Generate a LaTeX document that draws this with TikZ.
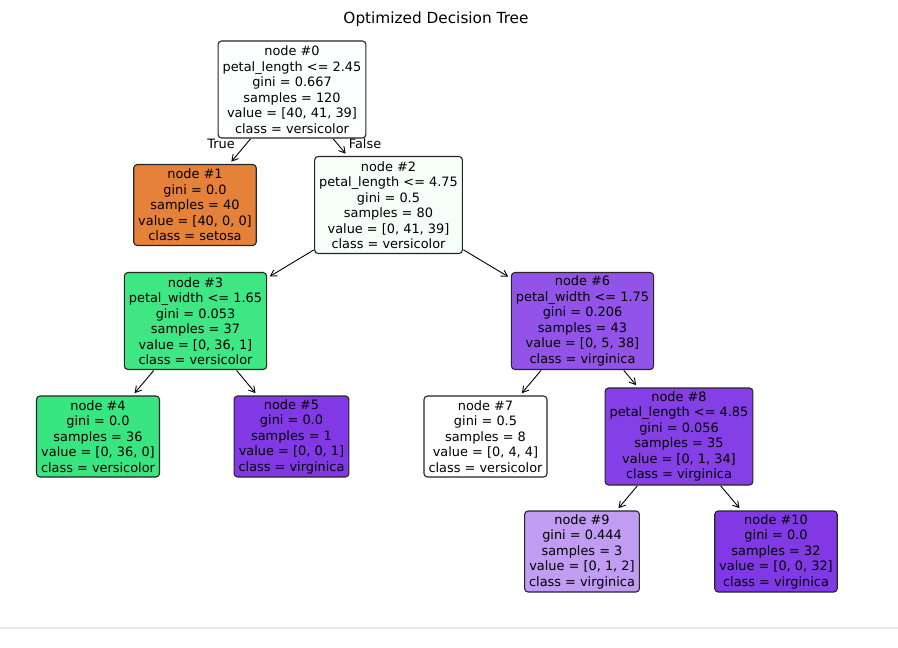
\documentclass[tikz,border=0pt]{standalone}
\usepackage{fontspec}
\setmainfont{DejaVu Sans}
\usetikzlibrary{arrows.meta}
\definecolor{c0}{RGB}{252,255,253}
\definecolor{c1}{RGB}{229,129,57}
\definecolor{c2}{RGB}{245,254,249}
\definecolor{c3}{RGB}{62,230,132}
\definecolor{c4}{RGB}{57,229,129}
\definecolor{c5}{RGB}{129,57,229}
\definecolor{c6}{RGB}{146,83,232}
\definecolor{c7}{RGB}{255,255,255}
\definecolor{c8}{RGB}{133,63,230}
\definecolor{c9}{RGB}{192,156,242}
\definecolor{c10}{RGB}{129,57,229}
\definecolor{rulegray}{RGB}{232,232,234}
\begin{document}
\begin{tikzpicture}[x=1pt,y=-1pt,
  treenode/.style={draw=black!85, line width=1.1pt, rounded corners=3.5pt, align=center,
    font=\fontsize{12.9}{15.5}\selectfont, inner xsep=4.5pt, inner ysep=0pt, text=black},
  sixline/.style={treenode, minimum height=97pt},
  fiveline/.style={treenode, minimum height=81pt},
  edge/.style={-{Straight Barb[length=6pt,width=7pt]}, line width=0.9pt, shorten >=3pt, shorten <=0.5pt},
  elabel/.style={font=\fontsize{12.9}{15.5}\selectfont, inner sep=0pt}]
\useasboundingbox (0,0) rectangle (898,648);
\fill[white] (0,0) rectangle (898,648);
\draw[rulegray, line width=1.5pt] (0,628) -- (898,628);
\node[font=\fontsize{15.3}{18}\selectfont, inner sep=0pt] (title) at (436,19) {Optimized Decision Tree};

\node[sixline, fill=c0] (n0) at (292,89.5) {node \#0\\petal\_length <= 2.45\\gini = 0.667\\samples = 120\\value = [40, 41, 39]\\class = versicolor};
\node[fiveline, fill=c1] (n1) at (195,205) {node \#1\\gini = 0.0\\samples = 40\\value = [40, 0, 0]\\class = setosa};
\node[sixline, fill=c2] (n2) at (388.5,205) {node \#2\\petal\_length <= 4.75\\gini = 0.5\\samples = 80\\value = [0, 41, 39]\\class = versicolor};
\node[sixline, fill=c3] (n3) at (195.5,321) {node \#3\\petal\_width <= 1.65\\gini = 0.053\\samples = 37\\value = [0, 36, 1]\\class = versicolor};
\node[sixline, fill=c6] (n6) at (582.5,321) {node \#6\\petal\_width <= 1.75\\gini = 0.206\\samples = 43\\value = [0, 5, 38]\\class = virginica};
\node[fiveline, fill=c4] (n4) at (98,436.5) {node \#4\\gini = 0.0\\samples = 36\\value = [0, 36, 0]\\class = versicolor};
\node[fiveline, fill=c5] (n5) at (291.5,436.5) {node \#5\\gini = 0.0\\samples = 1\\value = [0, 0, 1]\\class = virginica};
\node[fiveline, fill=c7] (n7) at (485.5,436.5) {node \#7\\gini = 0.5\\samples = 8\\value = [0, 4, 4]\\class = versicolor};
\node[sixline, fill=c8] (n8) at (679,436.5) {node \#8\\petal\_length <= 4.85\\gini = 0.056\\samples = 35\\value = [0, 1, 34]\\class = virginica};
\node[fiveline, fill=c9] (n9) at (582,551.5) {node \#9\\gini = 0.444\\samples = 3\\value = [0, 1, 2]\\class = virginica};
\node[fiveline, fill=c10] (n10) at (776,551.5) {node \#10\\gini = 0.0\\samples = 32\\value = [0, 0, 32]\\class = virginica};

\draw[edge] (n0) -- (n1);
\draw[edge] (n0) -- (n2);
\draw[edge] (n2) -- (n3);
\draw[edge] (n2) -- (n6);
\draw[edge] (n3) -- (n4);
\draw[edge] (n3) -- (n5);
\draw[edge] (n6) -- (n7);
\draw[edge] (n6) -- (n8);
\draw[edge] (n8) -- (n9);
\draw[edge] (n8) -- (n10);

\node[elabel] (ltrue) at (221,144) {True};
\node[elabel] (lfalse) at (365,144) {False};
\end{tikzpicture}
\end{document}
